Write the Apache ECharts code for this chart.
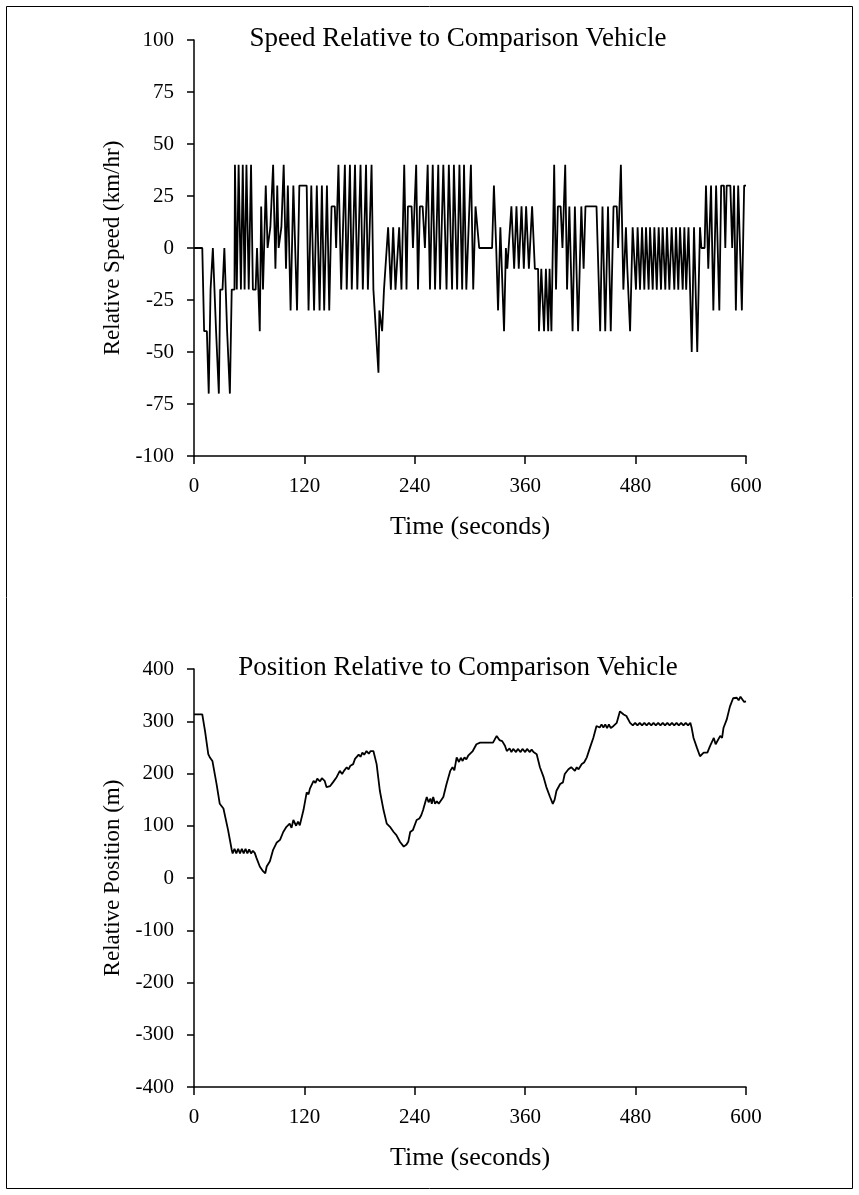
<!DOCTYPE html>
<html>
<head>
<meta charset="utf-8">
<script src="https://cdn.jsdelivr.net/npm/echarts@6/dist/echarts.min.js"></script>
<style>
html,body{margin:0;padding:0;background:#fff;}
#chart{width:859px;height:1195px;}
</style>
</head>
<body>
<div id="chart"></div>
<script>
// Titles and axis names
const speedTitle = "Speed Relative to Comparison Vehicle";
const positionTitle = "Position Relative to Comparison Vehicle";
const xName = "Time (seconds)";
const speedYName = "Relative Speed (km/hr)";
const positionYName = "Relative Position (m)";

// Axis ranges / ticks
const timeTicks = [0, 120, 240, 360, 480, 600];
const speedTicks = [-100, -75, -50, -25, 0, 25, 50, 75, 100];
const positionTicks = [-400, -300, -200, -100, 0, 100, 200, 300, 400];

// Relative speed (km/hr): [time s, value]
const speedData = [
  [0,0],[9,0],[11,-40],[14,-40],[16,-70],[18,-20],[19.5,-20],[20.5,0],[21.5,0],[24,-40],[25.5,-40],[27,-70],
  [28.5,-20],[31,-20],[33,0],[34,0],[36,-40],[38,-40],[39,-70],[41,-20],[44,-20],
  [44.5,40],[46.5,-20],[48.5,40],[51,-20],[53,40],[55,-20],[57,40],[59.5,-20],[62,40],[64,-20],[67,-20],
  [68.5,0],[70,0],[71.5,-40],[73,20],[75,-20],[78,30],[80,0],[82,0],[83,10],[85,10],[86,40],[88.5,-10],
  [90.5,30],[92,0],[94,0],[95,10],[96.5,10],[97.5,40],[100,-10],[102,30],[105,-30],[108,30],[112,-30],
  [114.5,30],[122.5,30],[124.5,-30],[127.5,30],[130.5,-30],[133.5,30],[136.5,-30],[139,30],[141.5,-30],
  [144.5,30],[147,-30],[148,-30],[149.5,20],[153,20],[154.5,0],[157,40],[160,-20],[164,40],[166,-20],
  [169.5,40],[171.5,-20],[175,40],[177.5,-20],[181,40],[183.5,-20],[187,40],[189,-20],[193,40],[195,-20],
  [197,-20],[200.5,-60],[201.5,-30],[203,-30],[204.5,-40],[206.5,-20],[211,10],[214,-20],[216.5,10],
  [219,-20],[223,10],[225.5,-20],[228.5,40],[231,-20],[232.5,20],[236.5,20],[238,0],[241.5,40],[243.5,-20],
  [245.5,20],[248.5,20],[251,0],[254,40],[256.5,-20],[259.5,40],[262,-20],[265.5,40],[267.5,-20],[271,40],
  [272.5,40],[274.5,-20],[277,40],[280.5,-20],[282.5,40],[286,-20],[288.5,40],[291.5,-20],[293.5,40],
  [296,-20],[298,-20],[301,40],[303.5,-20],[306,20],[308,20],[310,0],[324,0],[326,30],[328.5,0],[330.5,-30],
  [333,10],[335,10],[337,-40],[339,0],[340.5,-10],[345,20],[348,-10],[350.5,20],[353,-10],[356,20],
  [358.5,-10],[361,20],[364,-10],[367.5,20],[370.5,-10],[374,-10],[375,-40],[377.5,-10],[380.5,-40],
  [382.5,-10],[385,-40],[386.5,-10],[388.5,-40],[391.5,40],[393.5,-20],[395.5,20],[398.5,20],[400.5,0],
  [403.5,40],[405.5,-20],[408,20],[409.5,20],[411.5,-40],[414,20],[417.5,-40],[421,20],[423.5,-10],
  [425.5,20],[437.5,20],[441.5,-40],[444,20],[447,-40],[450,20],[453,-40],[456,20],[459.5,20],[461,0],
  [464,40],[466.7,-20],[469.5,10],[471,-10],[472,-10],[474,-40],[476.8,10],[480.4,-20],[482.2,10],
  [484.8,-20],[487,10],[489.5,-20],[491.3,10],[494.2,-20],[495.7,10],[498.6,-20],[500.4,10],[503,-20],
  [505.1,10],[507.6,-20],[509.4,10],[512.3,-20],[514.1,10],[516.7,-20],[519.2,10],[522.1,-20],[523.9,10],
  [526.4,-20],[528.3,10],[531.2,-20],[533,10],[535,-20],[537.5,10],[541,-50],[543.5,10],[547,-50],[550,10],
  [551.5,0],[555,0],[556.5,30],[559,-10],[562,30],[564.5,-30],[567.5,30],[571,-30],[573,30],[576,30],
  [577.5,0],[579,30],[583,30],[585,0],[587,30],[589,-30],[591.5,30],[593,30],[595.5,-30],[598,30],[600,30]
];

// Relative position (m): [time s, value]
const positionData = [
  [0,313],[9,313],[12,281],[15.5,237],[17.5,230],[20,224],[22,221],[24.5,180],[28,142],[32,133],[34,130],
  [37,92],[41,54],[42,47],[44,56],[46,47],[48,56],[50,47],[52,56],[54,47],[56,56],[58,47],[60,55],[62,47],
  [64,52],[66,48],[68,38],[71.5,22],[75,13],[77.5,9],[79,22],[82.5,32],[86,54],[90,68],[93.5,73],[97,88],
  [100.5,98],[104,104],[106,96],[108,111],[111,100],[113,108],[115,101],[119,130],[122.5,164],[124.5,160],
  [126,171],[128,168],[130,186],[132,182],[134,190],[137,185],[139,191],[142,186],[144,174],[146,171],
  [148,176],[151,183],[153,180],[155,193],[158.5,205],[161,199],[163,205],[166,212],[168,208],[170,215],
  [173,218],[175,228],[177,231],[179,236],[181,232],[183,240],[185,236],[187.5,243],[190,238],[192,243],
  [195,243],[198.5,218],[202,167],[206,130],[209.5,104],[213,98],[217,88],[220,82],[224,69],[226,66],
  [228,60],[229.5,57],[231,64],[233,70],[235,88],[238,92],[242,111],[245,114],[247,120],[249,130],
  [253,155],[255,145],[257,152],[258.5,142],[260,155],[262,142],[264,147],[266,142],[268,142],[271,155],
  [274.5,180],[278.5,205],[281,212],[283,206],[285.5,231],[288,222],[290,230],[292,224],[294,231],
  [296,227],[298,234],[300,231],[303,243],[307,256],[311,259],[325,259],[327,262],[329,272],[331,270],
  [332,264],[335,262],[338,253],[340,243],[343,248],[345,241],[347,247],[350,241],[352,247],[355,241],
  [357,247],[360,241],[362,247],[365,241],[367,246],[369,241],[372.5,237],[376,212],[380,193],[383,174],
  [387,155],[390,142],[392,150],[394,167],[398,180],[401,183],[403,199],[407,208],[410,212],[414,205],
  [416,212],[418,208],[421.5,218],[424,221],[427,231],[430.5,250],[434,268],[437.5,291],[439.5,294],
  [441,288],[443,294],[445,288],[447,294],[449,287],[451,294],[453,287],[456,291],[459.5,297],[463,319],
  [465,316],[467,313],[470,310],[474,297],[477,292],[479.5,297],[482,292],[484.5,297],[487,292],
  [489.5,297],[492,292],[494.5,297],[497,292],[499.5,297],[502,292],[504.5,297],[507,292],[509.5,297],
  [512,292],[514.5,297],[517,292],[519.5,297],[522,292],[524.5,297],[527,292],[529.5,297],[532,292],
  [534.5,297],[537,292],[539.5,297],[541,287],[543,268],[546.5,250],[550,233],[552,236],[554,240],
  [556,243],[558,240],[561,253],[563,250],[565,268],[567,256],[569,258],[572,272],[574,268],[575.5,287],
  [579,303],[582.5,328],[586,344],[588,347],[590,345],[592,340],[594,347],[596,345],[598,337],[600,338]
];

const FONT = "Liberation Serif, Times New Roman, serif";
const chart = echarts.init(document.getElementById('chart'), null, {renderer: 'canvas'});

function xAxisCfg(gridIndex) {
  return {
    type: 'value', gridIndex: gridIndex,
    min: timeTicks[0], max: timeTicks[timeTicks.length - 1],
    interval: timeTicks[1] - timeTicks[0],
    name: xName, nameLocation: 'middle', nameGap: 58,
    nameTextStyle: {fontFamily: FONT, fontSize: 26, color: '#000'},
    axisLine: {show: true, onZero: false, lineStyle: {color: '#000', width: 1.5}},
    axisTick: {show: true, length: 8, lineStyle: {color: '#000', width: 1.5}},
    axisLabel: {fontFamily: FONT, fontSize: 21, color: '#000', margin: 20},
    splitLine: {show: false}
  };
}
function yAxisCfg(gridIndex, ticks, name) {
  return {
    type: 'value', gridIndex: gridIndex,
    min: ticks[0], max: ticks[ticks.length - 1], interval: ticks[1] - ticks[0],
    name: name, nameLocation: 'middle', nameGap: 68, nameRotate: 90,
    nameTextStyle: {fontFamily: FONT, fontSize: 23, color: '#000'},
    axisLine: {show: true, onZero: false, lineStyle: {color: '#000', width: 1.5}},
    axisTick: {show: true, length: 7, lineStyle: {color: '#000', width: 1.5}},
    axisLabel: {fontFamily: FONT, fontSize: 21, color: '#000', margin: 20},
    splitLine: {show: false}
  };
}

chart.setOption({
  animation: false,
  backgroundColor: '#fff',
  graphic: [
    {type: 'rect', shape: {x: 6.5, y: 6.5, width: 846, height: 1182},
     style: {fill: null, stroke: '#000', lineWidth: 1}, silent: true},
    {type: 'text', x: 458, y: 39, silent: true,
     style: {text: speedTitle, textAlign: 'center', textVerticalAlign: 'middle', verticalAlign: 'middle',
             font: '27px ' + FONT, fill: '#000'}},
    {type: 'text', x: 458, y: 668, silent: true,
     style: {text: positionTitle, textAlign: 'center', textVerticalAlign: 'middle', verticalAlign: 'middle',
             font: '27px ' + FONT, fill: '#000'}}
  ],
  grid: [
    {left: 194, width: 552, top: 40, height: 416},
    {left: 194, width: 552, top: 669, height: 418}
  ],
  xAxis: [xAxisCfg(0), xAxisCfg(1)],
  yAxis: [yAxisCfg(0, speedTicks, speedYName), yAxisCfg(1, positionTicks, positionYName)],
  series: [
    {type: 'line', xAxisIndex: 0, yAxisIndex: 0, data: speedData, showSymbol: false,
     lineStyle: {color: '#000', width: 1.8}, z: 3},
    {type: 'line', xAxisIndex: 1, yAxisIndex: 1, data: positionData, showSymbol: false,
     lineStyle: {color: '#000', width: 1.8}, z: 3}
  ]
});
</script>
</body>
</html>
